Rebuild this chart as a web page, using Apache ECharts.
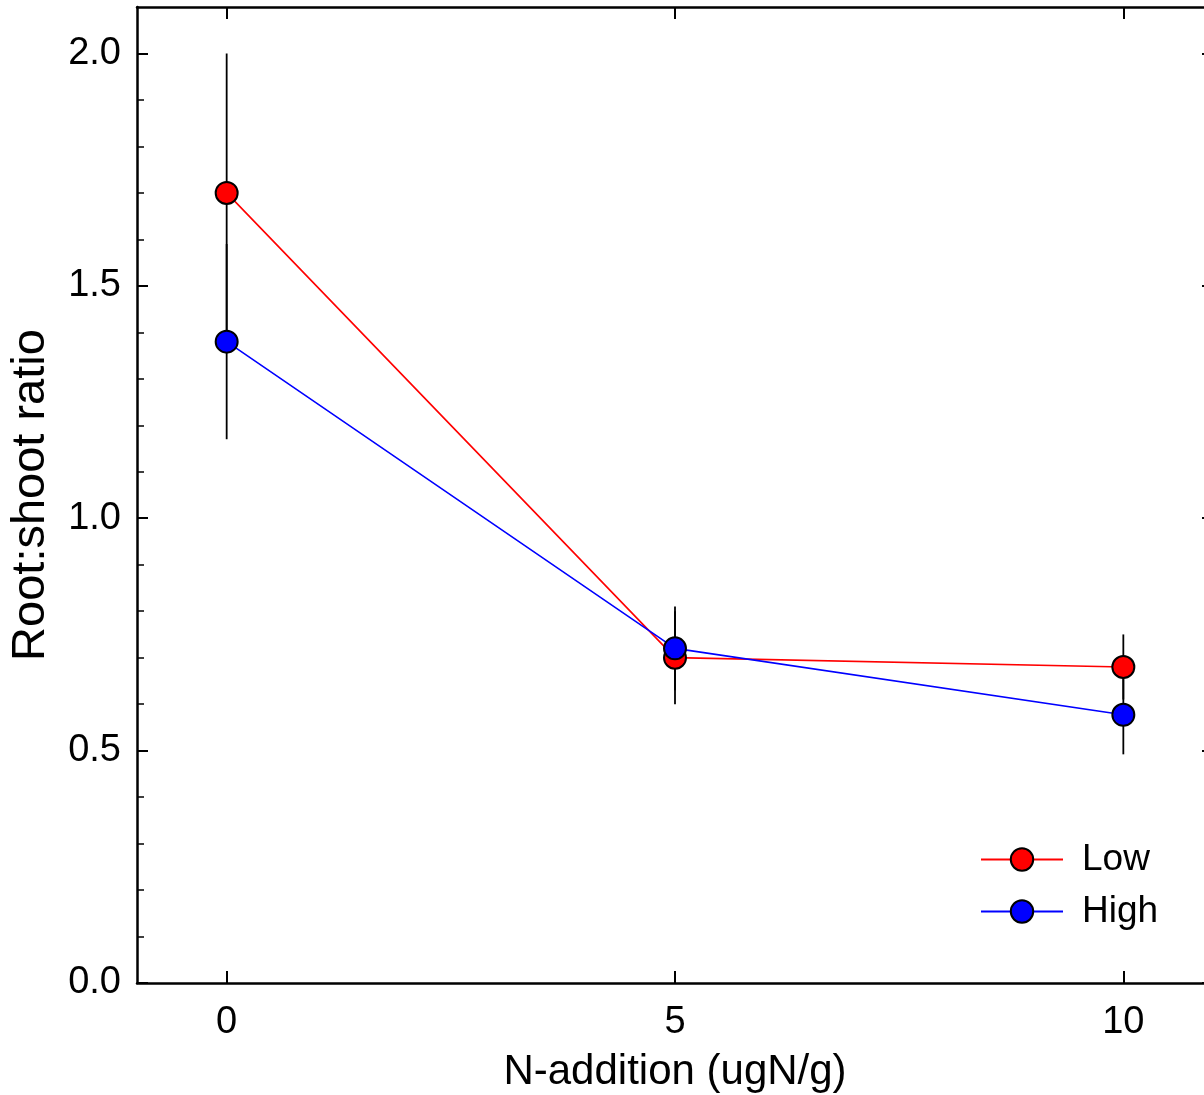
<!DOCTYPE html>
<html><head><meta charset="utf-8">
<script src="https://cdn.jsdelivr.net/npm/echarts@6/dist/echarts.min.js"></script>
<style>html,body{margin:0;padding:0;background:#fff;overflow:hidden;width:1204px;height:1095px}#c{width:1230px;height:1095px}</style>
</head><body><div id="c"></div>
<script>
const xValues = [0, 5, 10];
const lowMean = [1.70, 0.70, 0.68];
const lowErr = [0.30, 0.10, 0.07];
const highMean = [1.38, 0.72, 0.577];
const highErr = [0.21, 0.09, 0.085];
const xTicks = [0, 5, 10];
const yTicks = [0, 0.5, 1.0, 1.5, 2.0];

const FONT = 'Liberation Sans';
const chart = echarts.init(document.getElementById('c'), null, {renderer: 'canvas'});

function errData(m, e) { return xValues.map((x, i) => [x, m[i] - e[i], m[i] + e[i]]); }
function errSeries(m, e) {
  return {
    type: 'custom', silent: true, z: 1, legendHoverLink: false,
    data: errData(m, e),
    renderItem: function (params, api) {
      const p1 = api.coord([api.value(0), api.value(1)]);
      const p2 = api.coord([api.value(0), api.value(2)]);
      return {type: 'line', shape: {x1: p1[0], y1: p1[1], x2: p2[0], y2: p2[1]},
        style: {stroke: '#000', lineWidth: 1.8}};
    }
  };
}
function lineSeries(name, m, color) {
  return {
    name: name, type: 'line', z: 3,
    data: xValues.map((x, i) => [x, m[i]]),
    symbol: 'circle', symbolSize: 22,
    lineStyle: {color: color, width: 1.6},
    itemStyle: {color: color, borderColor: '#000', borderWidth: 2},
    emphasis: {disabled: true}
  };
}

chart.setOption({
  animation: false,
  textStyle: {fontFamily: FONT},
  grid: {left: 137, top: 7, width: 1076, height: 976, containLabel: false, outerBoundsMode: 'none'},
  legend: {
    left: 975, top: 836, orient: 'vertical',
    itemWidth: 82, itemHeight: 28, itemGap: 15,
    textStyle: {fontFamily: FONT, fontSize: 37, lineHeight: 34, color: '#000', padding: [0, 0, 0, 14]},
    data: ['Low', 'High']
  },
  xAxis: [{
    type: 'value', min: -1, max: 11, position: 'bottom',
    name: 'N-addition (ugN/g)', nameLocation: 'middle', nameGap: 68,
    nameTextStyle: {fontFamily: FONT, fontSize: 42, color: '#000'},
    axisLine: {onZero: false, lineStyle: {color: '#000', width: 2.5}},
    axisTick: {inside: true, length: 12, lineStyle: {color: '#000', width: 2}, customValues: xTicks},
    axisLabel: {fontFamily: FONT, fontSize: 38, color: '#000', margin: 21, customValues: xTicks},
    splitLine: {show: false}
  }, {
    type: 'value', min: -1, max: 11, position: 'top',
    axisLine: {onZero: false, lineStyle: {color: '#000', width: 2.5}},
    axisTick: {inside: true, length: 12, lineStyle: {color: '#000', width: 2}, customValues: xTicks},
    axisLabel: {show: false},
    splitLine: {show: false}
  }],
  yAxis: [{
    type: 'value', min: 0, max: 2.1, interval: 0.5, position: 'left',
    name: 'Root:shoot ratio', nameLocation: 'middle', nameGap: 82, nameRotate: 90,
    nameTextStyle: {fontFamily: FONT, fontSize: 47, color: '#000'},
    axisLine: {onZero: false, lineStyle: {color: '#000', width: 2.5}},
    axisTick: {inside: true, length: 11, lineStyle: {color: '#000', width: 2}, customValues: yTicks},
    minorTick: {show: true, splitNumber: 5, length: 7, lineStyle: {color: '#000', width: 1.5}},
    axisLabel: {fontFamily: FONT, fontSize: 38, color: '#000', margin: 16,
      customValues: yTicks, formatter: v => v.toFixed(1)},
    splitLine: {show: false}, minorSplitLine: {show: false}
  }, {
    type: 'value', min: 0, max: 2.1, interval: 0.5, position: 'right',
    axisLine: {show: true, onZero: false, lineStyle: {color: '#000', width: 2.5}},
    axisTick: {inside: true, length: 11, lineStyle: {color: '#000', width: 2}, customValues: yTicks},
    axisLabel: {show: false},
    splitLine: {show: false}
  }],
  series: [
    errSeries(lowMean, lowErr),
    errSeries(highMean, highErr),
    lineSeries('Low', lowMean, '#ff0000'),
    lineSeries('High', highMean, '#0000ff')
  ]
});
</script></body></html>
